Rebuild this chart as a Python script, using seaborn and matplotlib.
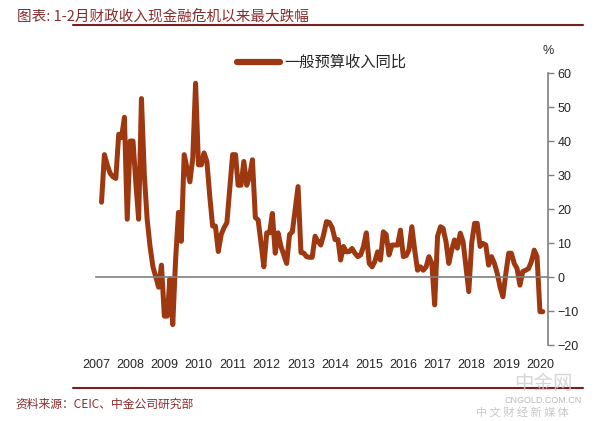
import numpy as np
import pandas as pd
import seaborn as sns
import matplotlib.pyplot as plt
import matplotlib.dates as mdates

# monthly yoy of general budget revenue, Mar 2007 - Feb 2020 (%)
start_month = '2007-03-01'
revenue_yoy = [
    22, 36, 33, 30.5, 29.5, 29, 42, 41, 47, 17,          # 2007
    40, 40, 28, 17, 52.5, 30, 17, 9, 3, 0, -3, 3.5,      # 2008
    -11.5, -11.5, -0.5, -14, 5, 19, 10.5, 36, 32, 28, 35, 57,   # 2009
    33, 33, 36.5, 34, 24, 15, 15, 7.5, 12.5, 14.5, 16, 26,      # 2010
    36, 36, 27, 27, 34, 27, 29.5, 34.5, 17.5, 16.8, 10, 3,      # 2011
    13, 13, 18.7, 7, 13, 9, 6.5, 4, 12.5, 13.3, 20, 26.6,       # 2012
    7.2, 7, 6, 5.8, 5.8, 12, 10.5, 9.4, 12.5, 16.3, 16, 14.5,   # 2013
    11, 11, 5, 9, 7.4, 7.5, 8.4, 7, 6, 6.5, 9, 13,              # 2014
    4, 3, 4.5, 7.4, 5, 13.3, 12.5, 6.5, 9.4, 9.4, 9.4, 13.8,    # 2015
    6, 6.3, 8, 14.8, 8, 2, 3, 2, 3, 6, 4, -8.2,                 # 2016
    12, 14.8, 14.3, 10.4, 4, 8, 10.9, 8.5, 12.9, 10.4, 3, -4.3, # 2017
    10, 15.8, 15.8, 9, 9.9, 9.4, 3.5, 6, 4, 1.1, -3, -5.8,      # 2018
    1, 7, 7, 4, 2.5, -2.4, 1.6, 2, 2.5, 4.5, 7.9, 6,            # 2019
    -10.2, -10.2,                                               # 2020
]
years = list(range(2007, 2021))
y_ticks = [-20, -10, 0, 10, 20, 30, 40, 50, 60]

series_name = '一般预算收入同比'
title = '图表: 1-2月财政收入现金融危机以来最大跌幅'
source = '资料来源：CEIC、中金公司研究部'

df = pd.DataFrame({
    'date': pd.date_range(start_month, periods=len(revenue_yoy), freq='MS'),
    'yoy': revenue_yoy,
})

sns.set_style('white')
plt.rcParams['font.family'] = ['Liberation Sans', 'Noto Sans CJK SC', 'DejaVu Sans']

line_color = '#9E3810'
axis_gray = '#7f7f7f'
dark_red = '#7a1f1f'

fig = plt.figure(figsize=(6, 4.21), dpi=100)
ax = fig.add_axes([0.16, 0.1805, 0.753, 0.646])

sns.lineplot(data=df, x='date', y='yoy', ax=ax, color=line_color,
             linewidth=3.6, label=series_name)

ax.set_xlim(pd.Timestamp('2007-01-01'), pd.Timestamp('2020-03-25'))
ax.set_ylim(-20, 60)
ax.set_xlabel('')
ax.set_ylabel('')

# y axis on the right
ax.yaxis.tick_right()
ax.set_yticks(y_ticks)
ax.tick_params(axis='y', direction='out', length=4, width=1, color=axis_gray,
               labelsize=9, pad=3, right=True, left=False)
ax.spines['left'].set_visible(False)
ax.spines['top'].set_visible(False)
ax.spines['right'].set_color(axis_gray)
ax.spines['right'].set_linewidth(1.2)

# x axis crossing at zero, labels at bottom
ax.spines['bottom'].set_position(('data', 0))
ax.spines['bottom'].set_color(axis_gray)
ax.spines['bottom'].set_linewidth(1.2)
ax.set_xticks([pd.Timestamp(f'{y}-01-01') for y in years])
ax.xaxis.set_major_formatter(mdates.DateFormatter('%Y'))
ax.tick_params(axis='x', direction='out', length=3, width=1, color=axis_gray,
               labelsize=9, pad=56)
ax.grid(False)

leg = ax.legend(loc='upper center', bbox_to_anchor=(0.5, 1.12), frameon=False,
                handlelength=2.8, handletextpad=0.3,
                prop={'family': ['Noto Sans CJK SC'], 'size': 11})
for h in leg.get_lines():
    h.set_linewidth(4.5)

fig.text(0.913, 0.878, '%', fontsize=9, ha='center', va='center')

# header and footer
fig.text(0.028, 0.962, title, fontsize=10.5, style='italic', color='#8a2b2b',
         ha='left', va='center', family=['Noto Sans CJK SC', 'DejaVu Sans'])
fig.add_artist(plt.Line2D([0.122, 0.972], [0.94, 0.94], color=dark_red,
                          linewidth=1.5))
fig.add_artist(plt.Line2D([0.122, 0.972], [0.078, 0.078], color=dark_red,
                          linewidth=1.5))
fig.text(0.025, 0.04, source, fontsize=8.5, style='italic', color='#8a2b2b',
         ha='left', va='center', family=['Noto Sans CJK SC', 'DejaVu Sans'])

# watermark
fig.text(0.905, 0.088, '中金网', fontsize=14, color='#cccccc', alpha=0.8,
         ha='center', va='center', family=['Noto Sans CJK SC'])
fig.text(0.905, 0.048, 'CNGOLD.COM.CN', fontsize=6.5, color='#bbbbbb',
         ha='center', va='center')
fig.text(0.87, 0.02, '中 文 财 经 新 媒 体', fontsize=8, color='#c8c8c8',
         ha='center', va='center', family=['Noto Sans CJK SC'])

fig.savefig('out.png', dpi=100)
